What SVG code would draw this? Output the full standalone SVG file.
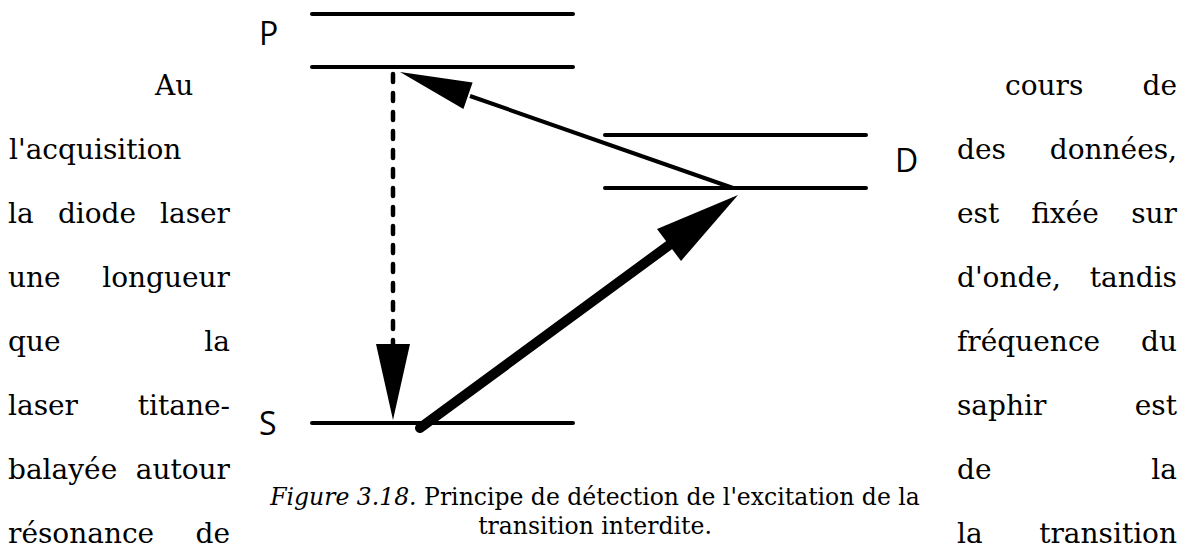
<svg xmlns="http://www.w3.org/2000/svg" width="1190" height="549" viewBox="0 0 1190 549">
<style>
.body{font-family:"DejaVu Serif","Liberation Serif",serif;font-size:28px;fill:#000}
.cap{font-family:"DejaVu Serif","Liberation Serif",serif;font-size:23.5px;fill:#000}
.lbl{font-family:"Open Sans","DejaVu Sans",sans-serif;font-size:32px;fill:#000}
.lvl{stroke:#000;stroke-width:4;stroke-linecap:round;fill:none}
</style>
<rect width="1190" height="549" fill="#fff"/>
<g id="text-left" class="body">
<text x="155" y="95">Au</text>
<text x="9" y="159">l'acquisition</text>
<text x="8" y="223">la</text><text x="97" y="223" text-anchor="middle">diode</text><text x="230" y="223" text-anchor="end">laser</text>
<text x="8" y="287">une</text><text x="230" y="287" text-anchor="end">longueur</text>
<text x="8" y="351">que</text><text x="230" y="351" text-anchor="end">la</text>
<text x="8" y="415">laser</text><text x="230" y="415" text-anchor="end">titane-</text>
<text x="8" y="479">balayée</text><text x="230" y="479" text-anchor="end">autour</text>
<text x="8" y="543">résonance</text><text x="230" y="543" text-anchor="end">de</text>
</g>
<g id="text-right" class="body">
<text x="1005" y="95">cours</text><text x="1177" y="95" text-anchor="end">de</text>
<text x="957" y="159">des</text><text x="1177" y="159" text-anchor="end">données,</text>
<text x="957" y="223">est</text><text x="1065" y="223" text-anchor="middle">fixée</text><text x="1177" y="223" text-anchor="end">sur</text>
<text x="957" y="287">d'onde,</text><text x="1177" y="287" text-anchor="end">tandis</text>
<text x="957" y="351">fréquence</text><text x="1177" y="351" text-anchor="end">du</text>
<text x="957" y="415">saphir</text><text x="1177" y="415" text-anchor="end">est</text>
<text x="957" y="479">de</text><text x="1177" y="479" text-anchor="end">la</text>
<text x="957" y="543">la</text><text x="1177" y="543" text-anchor="end">transition</text>
</g>
<g id="level-P">
<line class="lvl" x1="312" y1="14" x2="573" y2="14"/>
<line class="lvl" x1="312" y1="67" x2="573" y2="67"/>
<text class="lbl" x="259" y="45">P</text>
</g>
<g id="level-D">
<line class="lvl" x1="605" y1="135" x2="866" y2="135"/>
<line class="lvl" x1="605" y1="188" x2="866" y2="188"/>
<text class="lbl" x="895" y="172">D</text>
</g>
<g id="level-S">
<line class="lvl" x1="312" y1="423" x2="573" y2="423"/>
<text class="lbl" x="259" y="435">S</text>
</g>
<g id="connectors">
<line x1="393" y1="74" x2="393" y2="344" stroke="#000" stroke-width="4.5" stroke-linecap="round" stroke-dasharray="8 11"/>
<polygon points="376,344 410,344 393,420" fill="#000"/>
<line x1="733" y1="188" x2="470" y2="96" stroke="#000" stroke-width="4"/>
<polygon points="400,72 472.6,82.5 463.4,108.9" fill="#000"/>
<line x1="420" y1="428" x2="672" y2="243" stroke="#000" stroke-width="10" stroke-linecap="round"/>
<polygon points="738,195 681,261 657,229" fill="#000"/>
</g>
<g id="caption" class="cap">
<text x="595" y="505" text-anchor="middle"><tspan font-style="italic">Figure 3.18.</tspan> Principe de détection de l'excitation de la</text>
<text x="595" y="534" text-anchor="middle">transition interdite.</text>
</g>
</svg>
